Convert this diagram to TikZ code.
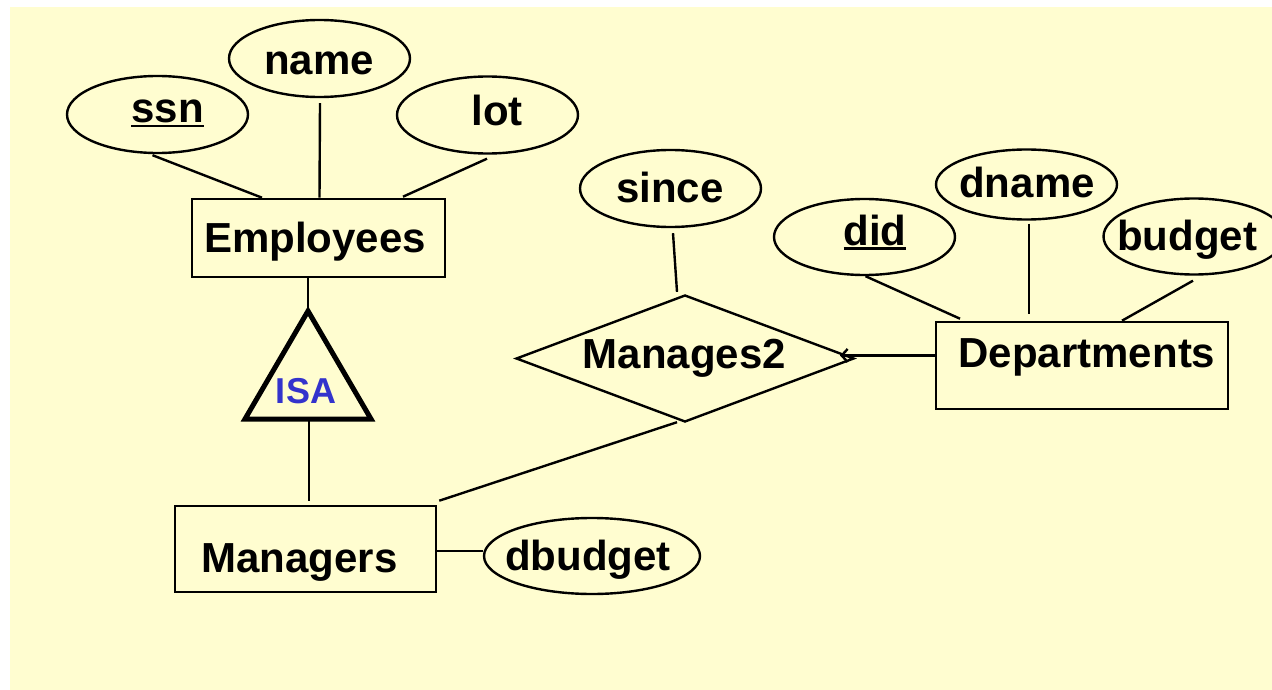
\documentclass[tikz,border=0pt]{standalone}
\usepackage{fontspec}
\setmainfont{Liberation Sans}
\usetikzlibrary{shapes.geometric,arrows.meta}
\definecolor{bgyellow}{RGB}{255,253,208}
\definecolor{isablue}{RGB}{51,51,204}
\newcommand\keyul[1]{\setbox0\hbox{#1}\rlap{\rule[-4.5pt]{\wd0}{2.6pt}}\box0}
\tikzset{
  attr/.style={draw, ellipse, line width=2.4pt, minimum width=181pt, minimum height=77pt, inner sep=0pt},
  entity/.style={draw, rectangle, line width=2.6pt, inner sep=0pt},
  relship/.style={draw, diamond, line width=2.4pt, inner sep=0pt, minimum width=338pt, minimum height=127pt},
  lbl/.style={anchor=base, font=\fontsize{42}{48}\selectfont\bfseries, inner sep=0pt},
  conn/.style={line width=2.4pt},
  isaline/.style={line width=5pt, line join=miter}
}
\begin{document}
\begin{tikzpicture}[x=1pt,y=-1pt]
\useasboundingbox (0,0) rectangle (1272,690);
\fill[bgyellow] (10,7) rectangle (1272,690);
% attribute ellipses of Employees
\node[attr] (ssnE) at (157.5,114.5) {};
\node[lbl] (ssnT) at (167.5,123) {\keyul{ssn}};
\node[attr] (nameE) at (319.5,58.5) {};
\node[lbl] (nameT) at (319,75) {name};
\node[attr] (lotE) at (487.5,115) {};
\node[lbl] (lotT) at (497,125.5) {lot};
% Employees
\node[entity, minimum width=253pt, minimum height=78pt] (emp) at (318.5,238) {};
\node[lbl] (empT) at (315,252) {Employees};
% ISA triangle
\coordinate (isaTop) at (308,311);
\coordinate (isaL) at (245,419);
\coordinate (isaR) at (371,419);
\coordinate (isaB) at (309,421);
\draw[isaline] (isaTop) -- (isaR) -- (isaL) -- cycle;
\node[lbl, font=\fontsize{36}{40}\selectfont\bfseries, text=isablue] (isaT) at (306,403) {ISA};
% Managers
\node[entity, minimum width=261pt, minimum height=86pt] (mgr) at (305.5,549) {};
\node[lbl] (mgrT) at (299.5,572) {Managers};
\node[attr, minimum width=216pt, minimum height=76pt] (dbE) at (592,556) {};
\node[lbl] (dbT) at (588,570) {dbudget};
% Manages2
\node[relship] (man) at (685,358.5) {};
\node[lbl] (manT) at (684.5,368) {Manages2};
\node[attr] (sinceE) at (670.5,188.5) {};
\node[lbl] (sinceT) at (670,202) {since};
% Departments
\node[entity, minimum width=292pt, minimum height=87pt] (dept) at (1082,365.5) {};
\node[lbl] (deptT) at (1087,367) {Departments};
\node[attr, minimum height=76pt] (didE) at (864.5,237) {};
\node[lbl] (didT) at (875,245) {\keyul{did}};
\node[attr, minimum height=70pt] (dnameE) at (1026.5,184.5) {};
\node[lbl] (dnameT) at (1027,197) {dname};
\node[attr, minimum height=76pt] (budgetE) at (1194,236.5) {};
\node[lbl] (budgetT) at (1187,250) {budget};
\coordinate (arrEnd) at (840,355.5);
% connectors
\draw[conn] ([xshift=-5pt,yshift=-1pt]ssnE.south) -- ([xshift=-56.5pt]emp.north);
\draw[conn] ([xshift=0.5pt,yshift=-5pt]nameE.south) -- ([xshift=1pt]emp.north);
\draw[conn] ([xshift=-0.5pt,yshift=-4pt]lotE.south) -- ([xshift=84.5pt,yshift=1pt]emp.north);
\draw[conn] ([xshift=-10.5pt]emp.south) -- (isaTop);
\draw[conn] (isaB) -- ([yshift=4pt]isaB |- mgr.north);
\draw[conn] ([yshift=-2pt]mgr.east) -- ([yshift=-2pt]mgr.east -| dbE.west);
\draw[conn] ([xshift=2pt,yshift=4pt]mgr.north east) -- ([xshift=-8pt,yshift=1pt]man.south);
\draw[conn] ([xshift=2.5pt,yshift=-5pt]sinceE.south) -- ([xshift=-8pt,yshift=2pt]man.north);
\draw[conn, -{Straight Barb[length=6pt,width=13pt]}] ([yshift=10pt]dept.west) -- (arrEnd);
\draw[conn] ([xshift=1pt]didE.south) -- ([xshift=-122pt,yshift=2pt]dept.north);
\draw[conn] ([xshift=2.5pt,yshift=-3pt]dnameE.south) -- ([xshift=-53pt,yshift=7pt]dept.north);
\draw[conn] ([xshift=-1pt,yshift=-5pt]budgetE.south) -- ([xshift=40pt]dept.north);
\end{tikzpicture}
\end{document}
